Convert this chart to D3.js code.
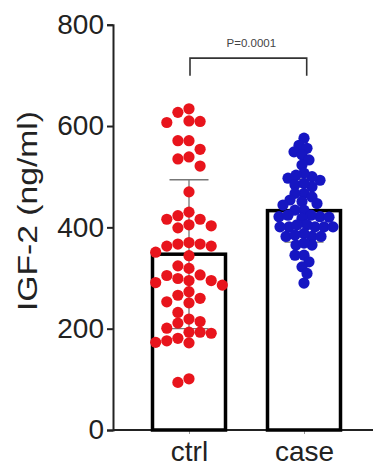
<!DOCTYPE html>
<html>
<head>
<meta charset="utf-8">
<script src="https://cdn.jsdelivr.net/npm/d3@7"></script>
<style>
  body { margin: 0; background: #fff; }
  svg text { font-family: 'Liberation Sans', Arial, sans-serif; }
</style>
</head>
<body>
<div id="chart"></div>
<script>
// values
const categories = ['ctrl', 'case'];
const ctrlValues = [634, 627, 610, 607, 609, 571, 571, 554, 535, 539, 521, 470, 423, 430, 416, 416,
  399, 405, 403, 363, 370, 363, 367, 367, 344, 351, 324, 319, 295, 299, 291, 306, 305, 286, 295,
  266, 273, 253, 251, 260, 232, 219, 214, 211, 201, 193, 193, 191, 181, 173, 176, 172, 94, 101];
const caseValues = [576, 562, 556, 549, 543, 533, 523, 493, 497, 500, 507, 503, 480, 484, 487,
  467, 467, 460, 454, 451, 447, 444, 434, 434, 421, 424, 421, 424, 420, 418, 401, 405, 401, 401,
  405, 401, 401, 382, 382, 388, 382, 385, 365, 365, 369, 345, 345, 332, 322, 309, 290];
const barMeans = [347, 433];
const barSD = [147, 62];
const yTicks = [0, 200, 400, 600, 800];
const pLabel = 'P=0.0001';
const bracketTop = 734;
const bracketFoot = 699;

const width = 373, height = 466;
const axisX = 113;

const svg = d3.select('#chart').append('svg')
    .attr('width', width)
    .attr('height', height);

const y = d3.scaleLinear().domain([0, 800]).range([430, 24.7]);
const x = d3.scalePoint().domain(categories).range([189, 304]);
const barWidth = 73;

// y axis
const yAxis = svg.append('g')
    .attr('transform', `translate(${axisX},0)`)
    .call(d3.axisLeft(y).tickValues(yTicks).tickSize(6).tickPadding(3));
yAxis.select('.domain').attr('stroke', '#222').attr('stroke-width', 2);
yAxis.selectAll('.tick line').attr('stroke', '#222').attr('stroke-width', 2);
yAxis.selectAll('.tick text')
    .attr('font-size', 28)
    .attr('font-family', "'Liberation Sans', Arial, sans-serif")
    .attr('fill', '#222');

// x axis line + category ticks
svg.append('line')
    .attr('x1', axisX).attr('x2', width)
    .attr('y1', y(0)).attr('y2', y(0))
    .attr('stroke', '#222').attr('stroke-width', 2);

const xAxis = svg.append('g')
    .attr('transform', `translate(0,${y(0)})`)
    .call(d3.axisBottom(x).tickSize(4).tickPadding(7).tickSizeOuter(0));
xAxis.select('.domain').remove();
xAxis.selectAll('.tick line').attr('stroke', '#999');
xAxis.selectAll('.tick text')
    .attr('font-size', 28)
    .attr('font-family', "'Liberation Sans', Arial, sans-serif")
    .attr('fill', '#222');

// y label
svg.append('text')
    .attr('transform', 'translate(37,211) rotate(-90)')
    .attr('text-anchor', 'middle')
    .attr('font-size', 28)
    .attr('fill', '#222')
    .attr('textLength', 200)
    .attr('lengthAdjust', 'spacingAndGlyphs')
    .text('IGF-2 (ng/ml)');

// bars
svg.selectAll('.bar')
    .data(categories)
    .join('rect')
    .attr('class', 'bar')
    .attr('x', d => x(d) - barWidth / 2)
    .attr('width', barWidth)
    .attr('y', (d, i) => y(barMeans[i]))
    .attr('height', (d, i) => y(0) - y(barMeans[i]))
    .attr('fill', '#fff')
    .attr('stroke', '#000')
    .attr('stroke-width', 3.5);

// error bars (mean +/- SD)
const capW = 39;
const err = svg.append('g').attr('stroke', '#777').attr('stroke-width', 1.3);
categories.forEach((c, i) => {
  const hi = y(barMeans[i] + barSD[i]), lo = y(barMeans[i] - barSD[i]);
  err.append('line').attr('x1', x(c)).attr('x2', x(c)).attr('y1', hi).attr('y2', lo);
  err.append('line').attr('x1', x(c) - capW / 2).attr('x2', x(c) + capW / 2).attr('y1', hi).attr('y2', hi);
  err.append('line').attr('x1', x(c) - capW / 2).attr('x2', x(c) + capW / 2).attr('y1', lo).attr('y2', lo);
});

// simple beeswarm: try offsets 0, -1, +1, -2, ... steps until no overlap
function swarm(values, cx, step, minGap) {
  const placed = [];
  const out = new Array(values.length);
  const order = d3.range(values.length).sort((a, b) => values[b] - values[a]);
  order.forEach(i => {
    const yy = y(values[i]);
    for (let k = 0; k < 200; k++) {
      const col = k === 0 ? 0 : (k % 2 ? -Math.ceil(k / 2) : k / 2);
      const xx = cx + col * step;
      const hit = placed.some(p => Math.hypot(p.x - xx, p.y - yy) < minGap);
      if (!hit) {
        placed.push({x: xx, y: yy});
        out[i] = {x: xx, y: yy};
        break;
      }
    }
  });
  return out;
}

const ctrlPts = swarm(ctrlValues, x('ctrl'), 11.1, 10.5);
const casePts = swarm(caseValues, x('case'), 1, 8.2);

svg.append('g').selectAll('circle')
    .data(ctrlPts)
    .join('circle')
    .attr('cx', d => d.x).attr('cy', d => d.y)
    .attr('r', 5.6)
    .attr('fill', '#e8141c');

svg.append('g').selectAll('circle')
    .data(casePts)
    .join('circle')
    .attr('cx', d => d.x).attr('cy', d => d.y)
    .attr('r', 5.6)
    .attr('fill', '#1616c2');

// significance bracket
const bx1 = 190, bx2 = 306.7;
svg.append('path')
    .attr('d', `M${bx1},${y(bracketFoot)}V${y(bracketTop)}H${bx2}V${y(bracketFoot)}`)
    .attr('fill', 'none')
    .attr('stroke', '#333')
    .attr('stroke-width', 1.6);

svg.append('text')
    .attr('x', (bx1 + bx2) / 2 + 3)
    .attr('y', 46.5)
    .attr('text-anchor', 'middle')
    .attr('font-size', 11.5)
    .attr('fill', '#444')
    .text(pLabel);
</script>
</body>
</html>
